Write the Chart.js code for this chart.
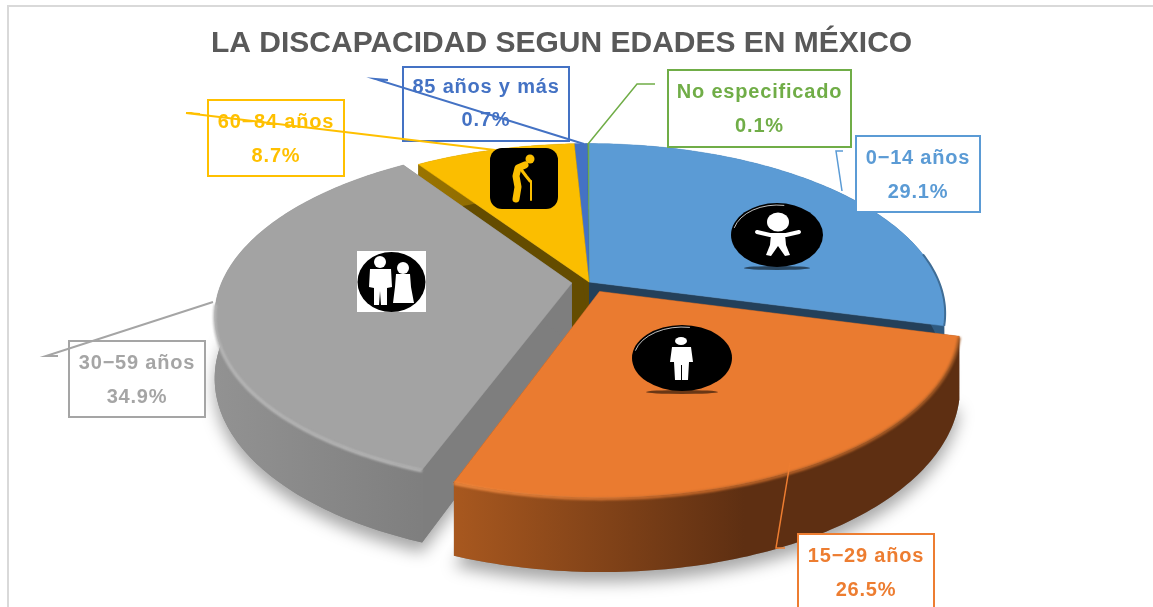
<!DOCTYPE html>
<html>
<head>
<meta charset="utf-8">
<title>La discapacidad segun edades en México</title>
<script src="https://cdn.jsdelivr.net/npm/chart.js@4/dist/chart.umd.js"></script>
<style>
  html, body { margin: 0; padding: 0; background: #fff; overflow: hidden; }
  canvas { display: block; }
</style>
</head>
<body>
<canvas id="my-chart" width="1153" height="607"></canvas>
<script>
const categories = ["0-14 años", "15-29 años", "30-59 años", "60-84 años", "85 años y más", "No especificado"];
const percents = [29.1, 26.5, 34.9, 8.7, 0.7, 0.1];
const chartTitle = "LA DISCAPACIDAD SEGUN EDADES EN MÉXICO";

const topColors = ["#5b9bd5", "#ea7b30", "#a3a3a3", "#fbbe00", "#4472c4", "#70ad47"];
const labelColors = ["#5b9bd5", "#ed7d31", "#a5a5a5", "#ffc000", "#4472c4", "#70ad47"];
const cutColors = ["#24405a", "#5e2f12", "#7e7e7e", "#644c00", "#2a4a80", "#46702c"];
const wallLeft = ["#3f6d96", "#a8581f", "#929292", "#9a7400", "#2a4a80", "#46702c"];
const wallRight = ["#2f5a80", "#5e2f12", "#777777", "#644c00", "#2a4a80", "#46702c"];
const explode = [0, 17, 13, 0, 0, 0];
const paintOrder = [0, 5, 4, 3, 2, 1];

// [left, top, right, bottom] of each label box, then the leader line
const labelBoxes = [
  [856, 136, 980, 212],
  [798, 534, 934, 620],
  [69, 341, 205, 417],
  [208, 100, 344, 176],
  [403, 67, 569, 141],
  [668, 70, 851, 147],
];
const leaders = [
  [[843, 151], [836, 151], [842, 191]],
  [[790, 463], [776, 548], [785, 548]],
  [[58, 356], [46, 356], [213, 302]],
  [[200, 114], [186, 113], [495, 150]],
  [[388, 80], [375, 79], [584, 144]],
  [[655, 84], [637, 84], [588, 144]],
];

// the perspective of the tilted pie
const view = { x: 589, y: 282, rx: 350, ry: 164, persp: 0.185, depth: 60 };

function project(u, v, h) {
  const s = 1 / (1 - view.persp * v);
  return [view.x + view.rx * u * s, view.y + view.ry * v * s + h * view.depth * s];
}

function sliceGeometry(arc) {
  const mid = (arc.startAngle + arc.endAngle) / 2;
  const e = arc.options.offset / arc.outerRadius;
  return {
    ou: Math.cos(mid) * e,
    ov: Math.sin(mid) * e,
    a0: arc.startAngle,
    a1: arc.endAngle,
  };
}

function rimPoints(g, h) {
  const pts = [];
  const n = Math.max(2, Math.ceil((g.a1 - g.a0) * 60));
  for (let i = 0; i <= n; i++) {
    const a = g.a0 + (g.a1 - g.a0) * i / n;
    pts.push(project(g.ou + Math.cos(a), g.ov + Math.sin(a), h));
  }
  return pts;
}

function tracePoly(ctx, pts) {
  ctx.beginPath();
  pts.forEach((p, i) => (i ? ctx.lineTo(p[0], p[1]) : ctx.moveTo(p[0], p[1])));
  ctx.closePath();
}

function drawSlice(ctx, arc, i) {
  const g = sliceGeometry(arc);
  const top = rimPoints(g, 0);
  const bottom = rimPoints(g, 1);
  const apex = project(g.ou, g.ov, 0);
  const apexLow = project(g.ou, g.ov, 1);
  const xs = top.concat(bottom).map((p) => p[0]);

  // the two straight cut faces
  ctx.fillStyle = cutColors[i];
  tracePoly(ctx, [apex, top[0], bottom[0], apexLow]);
  ctx.fill();
  tracePoly(ctx, [apex, top[top.length - 1], bottom[bottom.length - 1], apexLow]);
  ctx.fill();

  // outer wall, shaded from left to right
  const grad = ctx.createLinearGradient(Math.min(...xs), 0, Math.min(...xs) + 290, 0);
  grad.addColorStop(0, wallLeft[i]);
  grad.addColorStop(1, wallRight[i]);
  ctx.fillStyle = grad;
  tracePoly(ctx, top.concat(bottom.slice().reverse()));
  ctx.fill();

  // top face
  ctx.fillStyle = topColors[i];
  tracePoly(ctx, [apex].concat(top));
  ctx.fill();
  ctx.strokeStyle = topColors[i];
  ctx.lineWidth = 0.5;
  ctx.stroke();

  // dark rim on the blue slice
  if (i === 0) {
    ctx.strokeStyle = wallLeft[0];
    strokeLine(ctx, top.filter((p) => p[1] > view.y - 30), 2);
  }

  // bevel along the front edge only
  if (i === 1 || i === 2) {
    const front = rimPoints(g, 0.015).filter((p) => p[1] > view.y + 20);
    const bevel = ctx.createLinearGradient(Math.min(...xs), 0, Math.max(...xs), 0);
    bevel.addColorStop(0, i === 1 ? "#f08a40" : "#b8b8b8");
    bevel.addColorStop(0.45, i === 1 ? "#c96a2a" : "#b8b8b8");
    bevel.addColorStop(1, i === 1 ? "#a35a25" : "#b8b8b8");
    ctx.save();
    ctx.strokeStyle = bevel;
    ctx.filter = "blur(0.8px)";
    strokeLine(ctx, front, 3);
    ctx.restore();
  }
}

function drawPie(ctx, arcs) {
  // soft shadow on the ground under the slices
  ctx.save();
  ctx.shadowColor = "rgba(0,0,0,0.35)";
  ctx.shadowBlur = 16;
  ctx.shadowOffsetY = 10;
  ctx.fillStyle = "#888";
  arcs.forEach((arc) => {
    const g = sliceGeometry(arc);
    tracePoly(ctx, [project(g.ou, g.ov, 1)].concat(rimPoints(g, 1)));
    ctx.fill();
  });
  ctx.restore();
  paintOrder.forEach((i) => drawSlice(ctx, arcs[i], i));
}

function blackBadge(ctx, x, y, rx, ry) {
  ctx.fillStyle = "rgba(0,0,0,0.55)";
  ctx.beginPath();
  ctx.ellipse(x, y + ry + 1, rx * 0.72, 2, 0, 0, Math.PI * 2);
  ctx.fill();
  ctx.fillStyle = "#000";
  ctx.beginPath();
  ctx.ellipse(x, y, rx, ry, 0, 0, Math.PI * 2);
  ctx.fill();
  ctx.strokeStyle = "rgba(255,255,255,0.75)";
  ctx.lineWidth = 1;
  ctx.beginPath();
  ctx.ellipse(x, y, rx - 2, ry - 2, 0, Math.PI * 1.08, Math.PI * 1.55);
  ctx.stroke();
}

function strokeLine(ctx, pts, width) {
  ctx.lineWidth = width;
  ctx.beginPath();
  pts.forEach((p, i) => (i ? ctx.lineTo(p[0], p[1]) : ctx.moveTo(p[0], p[1])));
  ctx.stroke();
}

function drawIcons(ctx) {
  ctx.save();
  ctx.lineCap = "round";
  ctx.lineJoin = "round";

  // child
  blackBadge(ctx, 777, 235, 46, 32);
  ctx.fillStyle = ctx.strokeStyle = "#fff";
  ctx.beginPath();
  ctx.ellipse(778, 222, 11, 9.5, 0, 0, Math.PI * 2);
  ctx.fill();
  strokeLine(ctx, [[757, 232], [770, 235], [786, 235], [799, 232]], 4);
  tracePoly(ctx, [[771, 234], [785, 234], [786, 245], [790, 255], [785, 256], [778, 246], [771, 256], [766, 255], [770, 245]]);
  ctx.fill();

  // man
  blackBadge(ctx, 682, 358, 50, 33);
  ctx.fillStyle = ctx.strokeStyle = "#fff";
  ctx.beginPath();
  ctx.ellipse(681, 341, 6, 4, 0, 0, Math.PI * 2);
  ctx.fill();
  tracePoly(ctx, [[672, 347], [691, 347], [693, 362], [689, 362], [688, 380], [682, 380], [682, 365], [681, 365], [681, 380], [675, 380], [674, 362], [670, 362]]);
  ctx.fill();

  // couple
  ctx.fillStyle = "#fff";
  ctx.fillRect(357, 251, 69, 61);
  ctx.fillStyle = "#000";
  ctx.beginPath();
  ctx.ellipse(391.5, 282, 34, 30, 0, 0, Math.PI * 2);
  ctx.fill();
  ctx.fillStyle = ctx.strokeStyle = "#fff";
  ctx.beginPath();
  ctx.arc(380, 262, 6, 0, Math.PI * 2);
  ctx.fill();
  ctx.beginPath();
  ctx.arc(403, 268, 6, 0, Math.PI * 2);
  ctx.fill();
  tracePoly(ctx, [[370, 269], [391, 269], [392, 287], [387, 288], [387, 305], [381, 305], [380, 291], [379, 305], [374, 305], [374, 288], [369, 287]]);
  ctx.fill();
  tracePoly(ctx, [[396, 274], [410, 274], [411, 287], [414, 303], [393, 303], [395, 287]]);
  ctx.fill();

  // elder
  ctx.fillStyle = "#000";
  ctx.beginPath();
  ctx.roundRect(490, 148, 68, 61, 12);
  ctx.fill();
  ctx.fillStyle = ctx.strokeStyle = topColors[3];
  ctx.beginPath();
  ctx.arc(530, 159, 4.5, 0, Math.PI * 2);
  ctx.fill();
  strokeLine(ctx, [[525, 165], [518, 168], [516, 176], [518, 187], [516, 199]], 7);
  strokeLine(ctx, [[520, 168], [526, 176], [530, 181]], 3);
  strokeLine(ctx, [[531, 181], [531, 200]], 2);
  ctx.restore();
}

function drawLabels(ctx) {
  ctx.save();
  categories.forEach((name, i) => {
    const [l, t, r, b] = labelBoxes[i];
    ctx.fillStyle = "#fff";
    ctx.fillRect(l, t, r - l, b - t);
    ctx.strokeStyle = labelColors[i];
    ctx.lineWidth = 2;
    ctx.strokeRect(l, t, r - l, b - t);
    ctx.fillStyle = labelColors[i];
    ctx.font = "bold 20px 'Liberation Sans'";
    ctx.letterSpacing = "0.8px";
    ctx.textAlign = "center";
    ctx.textBaseline = "middle";
    const mid = (l + r) / 2;
    const small = b - t < 75;
    ctx.fillText(name.replace("-", "−"), mid, t + (small ? 20 : 22));
    ctx.fillText(percents[i].toFixed(1) + "%", mid, t + (small ? 53 : 56));
  });
  // leader lines run over the boxes in the reference
  categories.forEach((name, i) => {
    ctx.strokeStyle = labelColors[i];
    strokeLine(ctx, leaders[i], i === 0 || i === 1 || i === 5 ? 1.5 : 2);
  });
  ctx.restore();
}

const pie3d = {
  id: "pie3d",
  beforeDraw(chart) {
    const ctx = chart.ctx;
    ctx.save();
    ctx.fillStyle = "#d9d9d9";
    ctx.fillRect(7, 5, 1146, 2);
    ctx.fillRect(7, 5, 2, 602);
    ctx.restore();
  },
  beforeDatasetsDraw(chart) {
    const ctx = chart.ctx;
    drawPie(ctx, chart.getDatasetMeta(0).data);
    drawLabels(ctx);
    drawIcons(ctx);
    return false; // the slices above replace the flat pie
  },
};

const myChart = new Chart(document.getElementById("my-chart"), {
  type: "pie",
  data: {
    labels: categories,
    datasets: [
      {
        data: percents,
        backgroundColor: topColors,
        offset: explode,
        borderWidth: 0,
      },
    ],
  },
  options: {
    responsive: false,
    animation: false,
    layout: { padding: { left: 211, top: 26 } },
    plugins: {
      legend: { display: false },
      tooltip: { enabled: false },
      title: {
        display: true,
        text: chartTitle,
        align: "start",
        color: "#595959",
        font: { family: "'Liberation Sans'", size: 30, weight: "bold" },
        padding: 0,
      },
    },
  },
  plugins: [pie3d],
});
</script>
</body>
</html>
